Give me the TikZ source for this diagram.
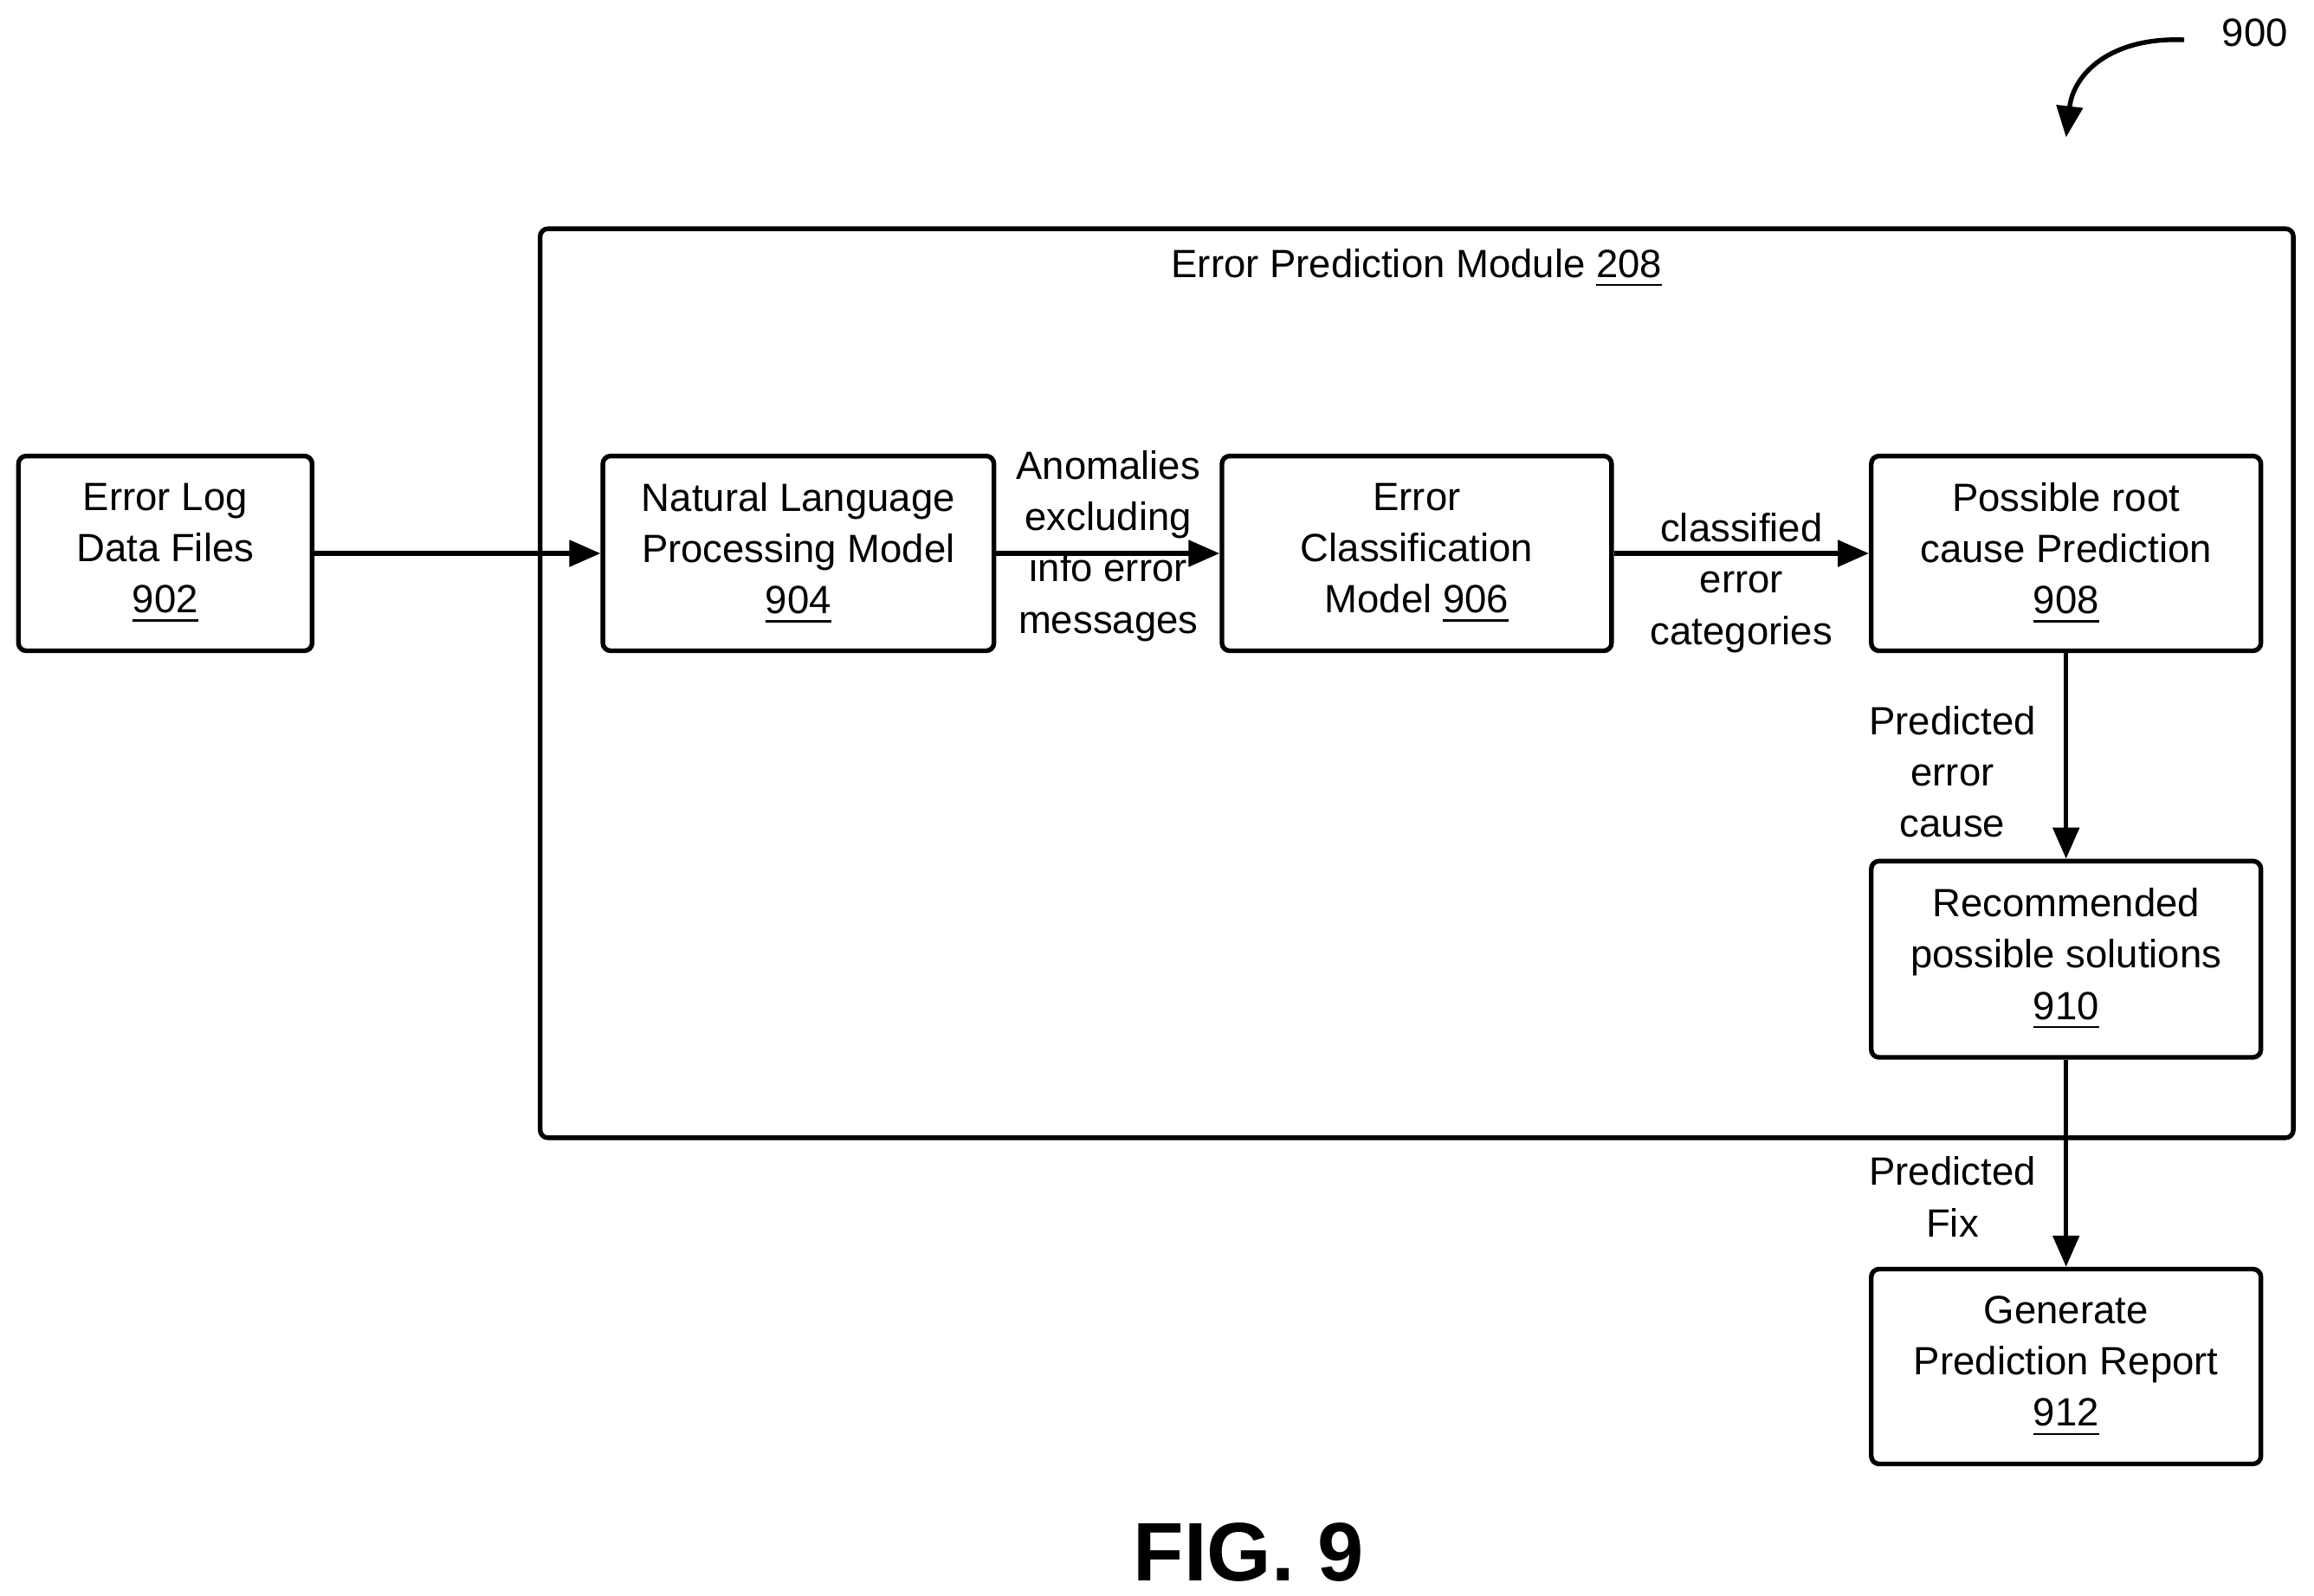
\documentclass[tikz,border=0pt]{standalone}
\usepackage{fontspec}
\setmainfont{Liberation Sans}
\usetikzlibrary{arrows.meta}
\begin{document}
\begin{tikzpicture}[x=0.1mm,y=-0.1mm,
  box/.style={draw,line width=0.9pt,rounded corners=1.5pt,minimum width=26.5mm,minimum height=13.2mm,align=center,inner sep=0pt,font=\fontsize{7.6}{9.9}\selectfont},
  lbl/.style={align=center,font=\fontsize{7.6}{9.9}\selectfont,inner sep=0pt},
  arr/.style={line width=0.9pt,-{Triangle[length=6pt,width=5pt]}}]
\useasboundingbox (0,0) rectangle (1568,1081);
\node[draw,line width=0.9pt,rounded corners=1.5pt,minimum width=118.8mm,minimum height=61.6mm,inner sep=0pt] (mod) at (960,463) {};
\node[lbl] (title) at (960,182) {Error Prediction Module \underline{208}};
\node[box,minimum width=19.9mm] (a) at (112,375) {Error Log\\Data Files\\\underline{902}};
\node[box] (b) at (541,375) {Natural Language\\Processing Model\\\underline{904}};
\node[box,minimum width=26.4mm] (c) at (960,375) {Error\\Classification\\Model \underline{906}};
\node[box,minimum width=26.4mm] (d) at (1400,375) {Possible root\\cause Prediction\\\underline{908}};
\node[box,minimum width=26.4mm,minimum height=13.3mm] (e) at (1400,650) {Recommended\\possible solutions\\\underline{910}};
\node[box,minimum width=26.4mm] (f) at (1400,926) {Generate\\Prediction Report\\\underline{912}};
\draw[arr] (a) -- (b);
\draw[arr] (b) -- (c);
\draw[arr] (c) -- (d);
\draw[arr] (d) -- (e);
\draw[arr] (e) -- (f);
\node[lbl] (l1) at (751,370) {Anomalies\\excluding\\info error\\messages};
\node[lbl] (l2) at (1180,395) {classified\\error\\categories};
\node[lbl] (l3) at (1323,523) {Predicted\\error\\cause};
\node[lbl] (l4) at (1323,811) {Predicted\\Fix};
\node[lbl] (n900) at (1528,22) {900};
\coordinate (s) at (1480,27);
\coordinate (t) at (1400,93);
\draw[line width=0.9pt,-{Triangle[length=6pt,width=5pt]}] (s) .. controls (1430,25) and (1405,50) .. (t);
\node[lbl,font=\bfseries\fontsize{16}{18}\selectfont] (fig) at (846,1052) {FIG. 9};
\end{tikzpicture}
\end{document}
